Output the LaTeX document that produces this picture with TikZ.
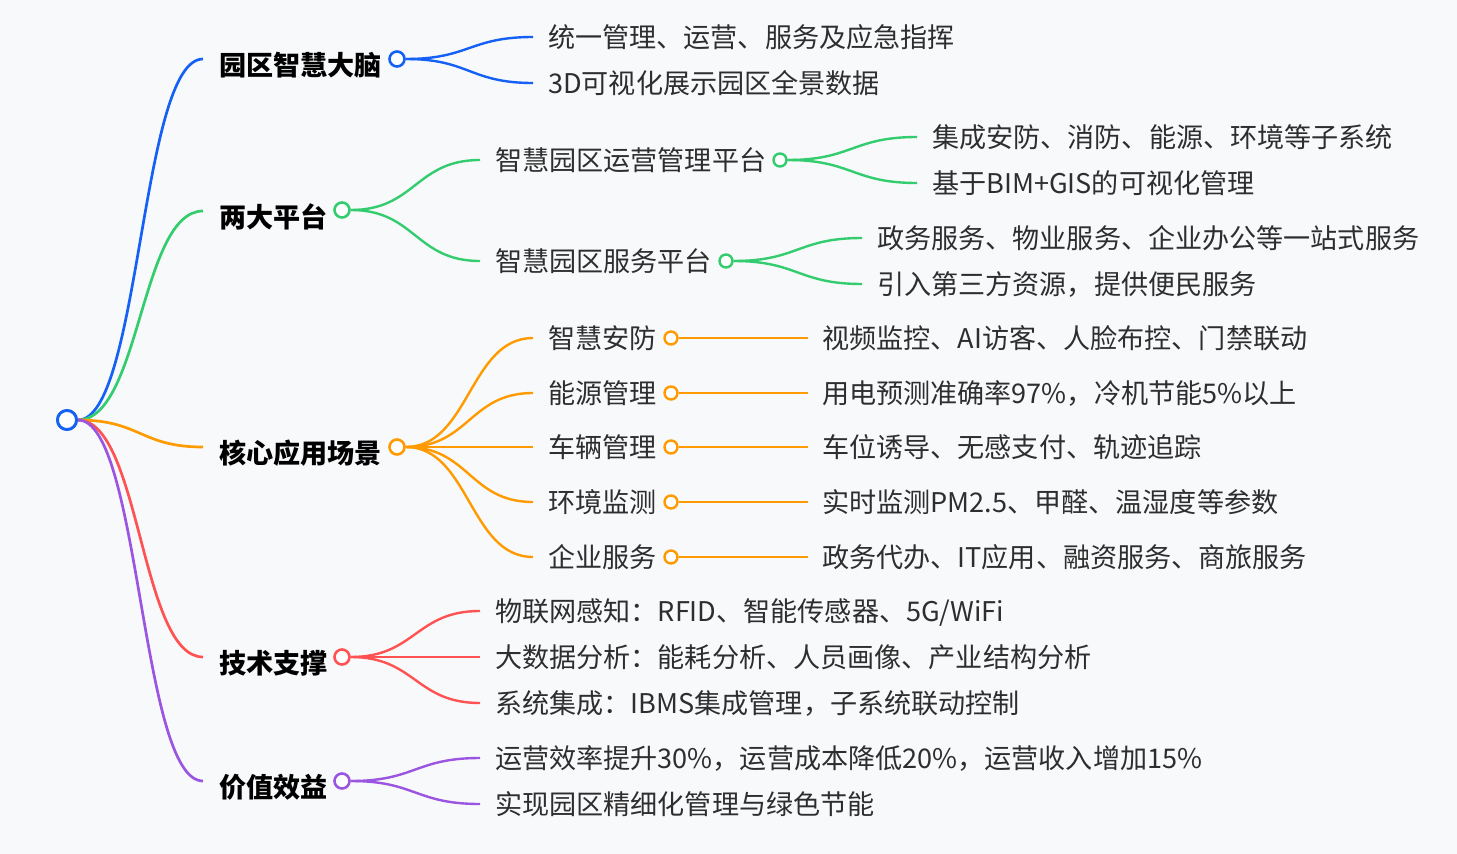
\documentclass[tikz,border=0pt]{standalone}
\usepackage{fontspec}
\setmainfont{Noto Sans CJK SC}
\usetikzlibrary{calc}
\definecolor{bgc}{HTML}{F8F9FB}
\definecolor{cblue}{HTML}{1560F5}
\definecolor{cgreen}{HTML}{33CC6E}
\definecolor{corange}{HTML}{FF9A00}
\definecolor{cred}{HTML}{FF5252}
\definecolor{cpurple}{HTML}{9B55E0}
\definecolor{txt}{HTML}{2E2E2E}
\tikzset{
  lone/.style={anchor=base west, inner sep=0pt, font=\fontsize{27.1}{30}\selectfont\bfseries, text=black},
  leaf/.style={anchor=base west, inner sep=0pt, font=\fontsize{27.1}{30}\selectfont, text=txt},
  dotone/.style={circle, fill=white, line width=2.6pt, minimum size=15pt, inner sep=0pt},
  dottwo/.style={circle, fill=white, line width=2.4pt, minimum size=13pt, inner sep=0pt},
  linkone/.style={line width=2.7pt},
  linktwo/.style={line width=2.4pt},
}
\newcommand\lnk[3]{\draw[#3] let \p1=(#1), \p2=(#2) in (\p1) .. controls ({(\x1+\x2)/2},\y1) and ({(\x1+\x2)/2},\y2) .. (\p2);}
\begin{document}
\begin{tikzpicture}[x=1pt,y=-1pt]
\fill[bgc] (0,0) rectangle (1457,854);
\useasboundingbox (0,0) rectangle (1457,854);

% root
\node[circle, fill=white, draw=cblue, line width=2.8pt, minimum size=19pt, inner sep=0pt] (root) at (67,420) {};

% ---------- blue ----------
\coordinate (b0) at (203,59);
\node[lone] (bt) at (219,75) {园区智慧大脑};
\node[dotone, draw=cblue] (bc) at (397,59) {};
\coordinate (b1) at (533,37);
\coordinate (b2) at (533,83);
\node[leaf] (bt1) at (548,47) {统一管理、运营、服务及应急指挥};
\node[leaf] (bt2) at (548,93) {3D可视化展示园区全景数据};
\lnk{root.east}{b0}{linkone,cblue}
\lnk{bc.east}{b1}{linktwo,cblue}
\lnk{bc.east}{b2}{linktwo,cblue}

% ---------- green ----------
\coordinate (g0) at (203,211);
\node[lone] (gt) at (219,227) {两大平台};
\node[dotone, draw=cgreen] (gc) at (342,210) {};
\coordinate (g1) at (480,160);
\coordinate (g2) at (480,261);
\node[leaf] (gt1) at (495,170) {智慧园区运营管理平台};
\node[leaf] (gt2) at (495,271) {智慧园区服务平台};
\node[dottwo, draw=cgreen] (gc1) at (780,160) {};
\node[dottwo, draw=cgreen] (gc2) at (726,261) {};
\coordinate (g11) at (917,137);
\coordinate (g12) at (917,183);
\coordinate (g21) at (862,238);
\coordinate (g22) at (862,284);
\node[leaf] (gt11) at (932,147) {集成安防、消防、能源、环境等子系统};
\node[leaf] (gt12) at (932,193) {基于BIM+GIS的可视化管理};
\node[leaf] (gt21) at (877,248) {政务服务、物业服务、企业办公等一站式服务};
\node[leaf] (gt22) at (877,294) {引入第三方资源，提供便民服务};
\lnk{root.east}{g0}{linkone,cgreen}
\lnk{gc.east}{g1}{linktwo,cgreen}
\lnk{gc.east}{g2}{linktwo,cgreen}
\lnk{gc1.east}{g11}{linktwo,cgreen}
\lnk{gc1.east}{g12}{linktwo,cgreen}
\lnk{gc2.east}{g21}{linktwo,cgreen}
\lnk{gc2.east}{g22}{linktwo,cgreen}

% ---------- orange ----------
\coordinate (o0) at (203,447);
\node[lone] (ot) at (219,463) {核心应用场景};
\node[dotone, draw=corange] (oc) at (397,447) {};
\lnk{root.east}{o0}{linkone,corange}
\foreach \i/\y/\a/\b in {1/338/智慧安防/{视频监控、AI访客、人脸布控、门禁联动},
                         2/393/能源管理/{用电预测准确率97\%，冷机节能5\%以上},
                         3/447/车辆管理/{车位诱导、无感支付、轨迹追踪},
                         4/502/环境监测/{实时监测PM2.5、甲醛、温湿度等参数},
                         5/557/企业服务/{政务代办、IT应用、融资服务、商旅服务}}{
  \coordinate (o\i) at (533,\y);
  \node[leaf] (ot\i) at (548,\y+10) {\a};
  \node[dottwo, draw=corange] (oc\i) at (671,\y) {};
  \coordinate (oe\i) at (808,\y);
  \node[leaf] (ol\i) at (822,\y+10) {\b};
  \lnk{oc.east}{o\i}{linktwo,corange}
  \draw[linktwo,corange] (oc\i.east) -- (oe\i);
}

% ---------- red ----------
\coordinate (r0) at (203,657);
\node[lone] (rt) at (219,673) {技术支撑};
\node[dotone, draw=cred] (rc) at (342,657) {};
\coordinate (r1) at (480,611);
\coordinate (r2) at (480,657);
\coordinate (r3) at (480,703);
\node[leaf] (rt1) at (495,621) {物联网感知：RFID、智能传感器、5G/WiFi};
\node[leaf] (rt2) at (495,667) {大数据分析：能耗分析、人员画像、产业结构分析};
\node[leaf] (rt3) at (495,713) {系统集成：IBMS集成管理，子系统联动控制};
\lnk{root.east}{r0}{linkone,cred}
\lnk{rc.east}{r1}{linktwo,cred}
\lnk{rc.east}{r2}{linktwo,cred}
\lnk{rc.east}{r3}{linktwo,cred}

% ---------- purple ----------
\coordinate (p0) at (203,781);
\node[lone] (pt) at (219,797) {价值效益};
\node[dotone, draw=cpurple] (pc) at (342,781) {};
\coordinate (p1) at (480,758);
\coordinate (p2) at (480,804);
\node[leaf] (pt1) at (495,768) {运营效率提升30\%，运营成本降低20\%，运营收入增加15\%};
\node[leaf] (pt2) at (495,814) {实现园区精细化管理与绿色节能};
\lnk{root.east}{p0}{linkone,cpurple}
\lnk{pc.east}{p1}{linktwo,cpurple}
\lnk{pc.east}{p2}{linktwo,cpurple}

% redraw root on top
\node[circle, fill=white, draw=cblue, line width=2.8pt, minimum size=19pt, inner sep=0pt] at (root) {};
\end{tikzpicture}
\end{document}
